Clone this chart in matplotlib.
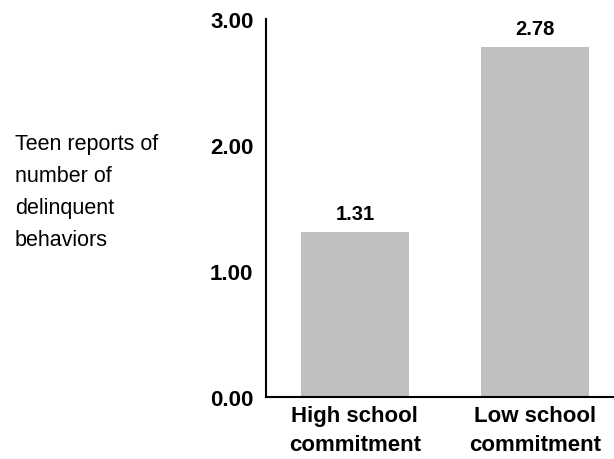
import matplotlib
matplotlib.use('Agg')
import matplotlib.pyplot as plt

plt.rcParams['font.family'] = ['Liberation Sans', 'DejaVu Sans']

# data
groups = ['High school\ncommitment', 'Low school\ncommitment']
values = [1.31, 2.78]
yticks = [0, 1, 2, 3]
ylabel_text = 'Teen reports of\nnumber of\ndelinquent\nbehaviors'

fig = plt.figure(figsize=(6.14, 4.6), dpi=100)
ax = fig.add_axes([0.4332, 0.1348, 0.5668, 0.8217])

x = list(range(len(values)))
bars = ax.bar(x, values, width=0.6, color='#c0c0c0', edgecolor='none')

# value labels above bars
for xi, v in zip(x, values):
    ax.annotate(f'{v:.2f}', (xi, v), xytext=(0, 9.5), textcoords='offset points',
                ha='center', va='baseline', fontsize=14.5, fontweight='bold')

ax.set_xlim(-0.494, 1.44)
ax.set_ylim(0, 3)
ax.set_yticks(yticks)
ax.set_yticklabels([f'{t:.2f}' for t in yticks], fontsize=16, fontweight='bold')
ax.set_xticks(x)
ax.set_xticklabels(groups, fontsize=16, fontweight='bold', linespacing=1.5)
ax.tick_params(axis='both', length=0)
ax.tick_params(axis='y', pad=9)
ax.tick_params(axis='x', pad=6)

for side in ['top', 'right']:
    ax.spines[side].set_visible(False)
ax.spines['left'].set_linewidth(1.5)
ax.spines['bottom'].set_linewidth(1.5)

fig.text(15 / 614, 1 - 134 / 460, ylabel_text, ha='left', va='top',
         fontsize=15.5, linespacing=1.68)

fig.savefig('out.png', dpi=100)
